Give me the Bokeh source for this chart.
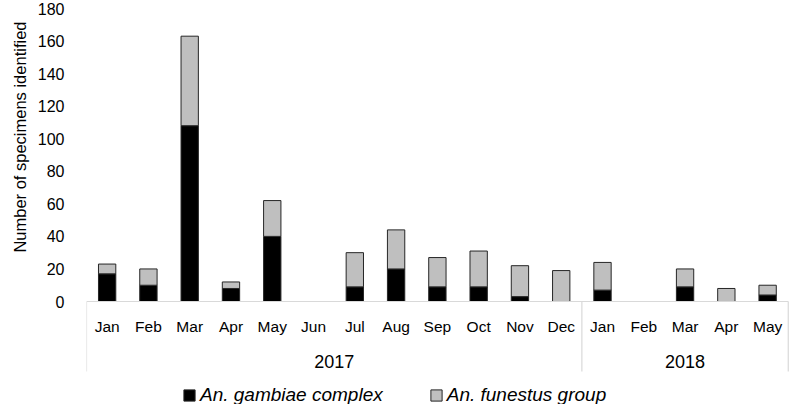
import numpy as np
from bokeh.plotting import figure
from bokeh.models import (ColumnDataSource, Range1d, FixedTicker, Legend,
                          LegendItem, Title)
from bokeh.core.properties import value
from bokeh.embed import file_html
from bokeh.resources import INLINE

# ---------------- data ----------------
months = ["Jan", "Feb", "Mar", "Apr", "May", "Jun", "Jul", "Aug", "Sep", "Oct",
          "Nov", "Dec", "Jan", "Feb", "Mar", "Apr", "May"]
years = ["2017", "2017", "2017", "2017", "2017", "2017", "2017", "2017", "2017",
         "2017", "2017", "2017", "2018", "2018", "2018", "2018", "2018"]
gambiae = [17, 10, 108, 8, 40, 0, 9, 20, 9, 9, 3, 0, 7, 0, 9, 0, 4]
funestus = [6, 10, 55, 4, 22, 0, 21, 24, 18, 22, 19, 19, 17, 0, 11, 8, 6]
y_ticks = [0, 20, 40, 60, 80, 100, 120, 140, 160, 180]
series_labels = ["An. gambiae complex", "An. funestus group"]
series_colors = ["#000000", "#bfbfbf"]
y_title = "Number of specimens identified"

# ---------------- layout ----------------
W, H = 789, 404
FRAME_LEFT = 86
ZERO_Y = 301          # canvas px of value 0
TOP_Y = 8             # canvas px of value 180
PX = (ZERO_Y - TOP_Y) / 180.0
FONT = "Liberation Sans"
TXT = "#000000"
AXIS_GREY = "#d9d9d9"

n = len(months)
x = np.arange(n)
x_range = Range1d(-0.5, n - 0.5 + 0.03)
y_range = Range1d(-(H - ZERO_Y) / PX, 180 + TOP_Y / PX)

p = figure(width=W, height=H, x_range=x_range, y_range=y_range,
           output_backend="svg", toolbar_location=None, x_axis_location=None,
           min_border_left=FRAME_LEFT, min_border_right=0, min_border_top=0,
           min_border_bottom=0, outline_line_color=None,
           background_fill_color="white", border_fill_color="white")
p.grid.grid_line_color = None

outline = "#262626"
clear = "rgba(0,0,0,0)"
src = ColumnDataSource(dict(
    x=x, month=months, gambiae=gambiae, funestus=funestus,
    lc_g=[outline if v > 0 else clear for v in gambiae],
    lc_f=[outline if v > 0 else clear for v in funestus],
))

rs = p.vbar_stack(["gambiae", "funestus"], x="x", width=0.42, source=src,
                  fill_color=series_colors, line_color=["lc_g", "lc_f"],
                  line_width=1)

# category axis line
p.segment(x0=[-0.5], y0=[0], x1=[n - 0.5], y1=[0],
          line_color=AXIS_GREY, line_width=1.2)

# group separators
bounds = [-0.5] + [i - 0.5 for i in range(1, n) if years[i] != years[i - 1]] + [n - 0.5]
sep_bottom = -(371 - ZERO_Y) / PX
p.segment(x0=bounds, y0=[0] * len(bounds), x1=bounds, y1=[sep_bottom] * len(bounds),
          line_color=AXIS_GREY, line_width=1.2)

# month labels
p.text(x="x", y=-(326 - ZERO_Y) / PX, text="month", source=src,
       text_font=value(FONT), text_font_size="15.5px", text_color=TXT,
       text_align="center", text_baseline="middle")

# year labels
uniq = []
for yv in years:
    if yv not in uniq:
        uniq.append(yv)
centers = [float(np.mean([i for i in range(n) if years[i] == u])) for u in uniq]
p.text(x=centers, y=[-(361 - ZERO_Y) / PX] * len(uniq), text=uniq,
       text_font=value(FONT), text_font_size="18px", text_color=TXT,
       text_align="center", text_baseline="middle")

# y axis
ax = p.yaxis[0]
ax.ticker = FixedTicker(ticks=y_ticks)
ax.axis_line_color = None
ax.major_tick_line_color = None
ax.minor_tick_line_color = None
ax.major_tick_out = 0
ax.major_tick_in = 0
ax.major_label_standoff = 22
ax.major_label_text_font = FONT
ax.major_label_text_font_size = "16px"
ax.major_label_text_color = TXT

# y title (left side panel)
p.add_layout(Title(text=y_title, align="right", offset=21, standoff=12,
                   text_font=FONT, text_font_size="16.5px",
                   text_font_style="normal", text_color=TXT), "left")

# legend
legend = Legend(items=[LegendItem(label=series_labels[i], renderers=[rs[i]])
                       for i in range(2)],
                location=(96, -2), orientation="horizontal", padding=0, margin=0,
                spacing=46, glyph_width=14, glyph_height=14, label_standoff=4,
                label_height=20,
                label_text_font=FONT, label_text_font_size="19px",
                label_text_font_style="italic", label_text_color=TXT,
                border_line_color=None, background_fill_alpha=0)
p.add_layout(legend)

open("out.html", "w").write(file_html(p, INLINE))
